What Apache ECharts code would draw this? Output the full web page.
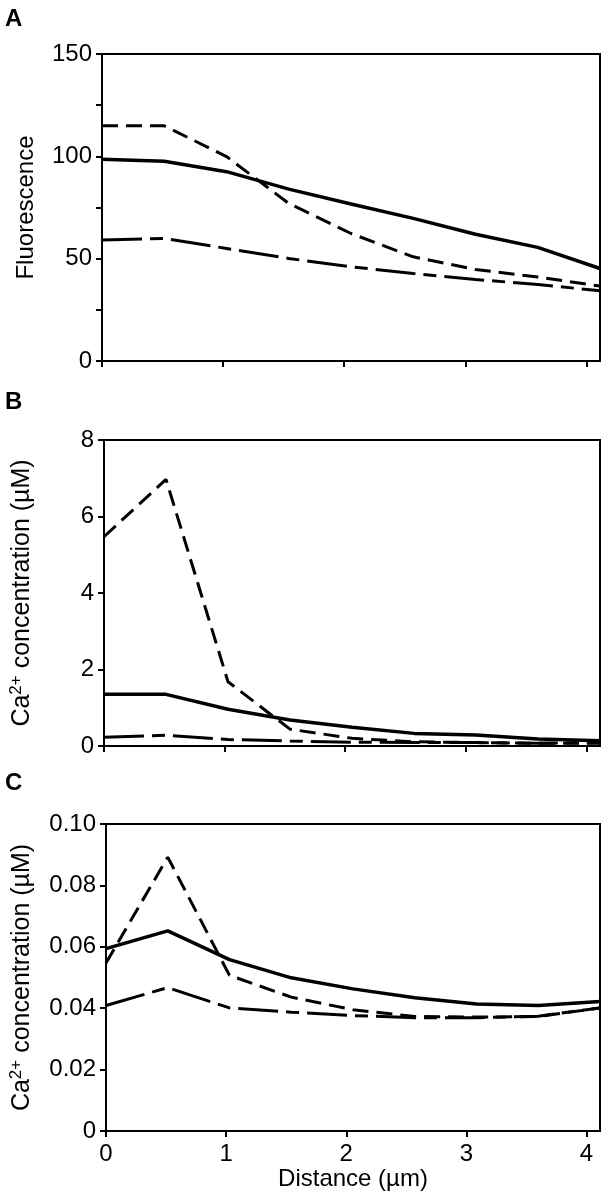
<!DOCTYPE html>
<html>
<head>
<meta charset="utf-8">
<script src="https://cdn.jsdelivr.net/npm/echarts@6/dist/echarts.min.js"></script>
<style>html,body{margin:0;padding:0;background:#fff}#c{width:608px;height:1200px}</style>
</head>
<body>
<div id="c"></div>
<script>
// Distance (µm) sample positions
const distance = [0, 0.514, 1.028, 1.542, 2.056, 2.57, 3.084, 3.598, 4.112];
const xTickLabels = [0, 1, 2, 3, 4];

// Panel A: Fluorescence
const aSolid   = [98.6, 97.6, 92.5, 84.0, 76.7, 69.7, 61.9, 55.5, 45.2];
const aDashed  = [114.9, 114.9, 99.9, 77.0, 62.3, 50.9, 44.7, 41.0, 36.6];
const aDashDot = [59.1, 59.9, 55.0, 50.1, 46.0, 42.8, 39.8, 37.4, 34.3];

// Panel B: Ca2+ concentration (µM)
const bSolid   = [1.35, 1.35, 0.96, 0.68, 0.49, 0.33, 0.29, 0.18, 0.14];
const bDashed  = [5.47, 6.97, 1.68, 0.44, 0.20, 0.11, 0.09, 0.07, 0.07];
const bDashDot = [0.23, 0.28, 0.17, 0.13, 0.10, 0.09, 0.09, 0.07, 0.09];

// Panel C: Ca2+ concentration (µM)
const cSolid   = [0.0594, 0.0652, 0.0558, 0.0499, 0.0463, 0.0434, 0.0414, 0.0409, 0.0422];
const cDashed  = [0.0547, 0.0892, 0.0507, 0.0436, 0.0395, 0.0373, 0.0371, 0.0373, 0.0401];
const cDashDot = [0.0409, 0.0467, 0.0401, 0.0387, 0.0376, 0.0369, 0.0369, 0.0374, 0.0401];

const aYLabels = [0, 50, 100, 150];
const bYLabels = [0, 2, 4, 6, 8];
const cYLabels = [0, 0.02, 0.04, 0.06, 0.08, 0.10];

const FONT = 'Liberation Sans, Arial, Helvetica, sans-serif';
const pairs = ys => distance.map((x, i) => [x, ys[i]]);

function xAxis(idx, showLabels) {
  return {
    type: 'value', gridIndex: idx, min: 0, max: 4.112, interval: 1,
    axisLine: { show: true, lineStyle: { color: '#000', width: 2 } },
    axisTick: { show: true, inside: false, length: 6, lineStyle: { color: '#000', width: 2 }, customValues: xTickLabels },
    axisLabel: showLabels ? { show: true, customValues: xTickLabels, fontSize: 24, color: '#000', fontFamily: FONT, margin: 11 } : { show: false },
    splitLine: { show: false },
    name: showLabels ? 'Distance (µm)' : '',
    nameLocation: 'middle', nameGap: 36,
    nameTextStyle: { fontSize: 24, color: '#000', fontFamily: FONT }
  };
}
function yAxis(idx, max, interval, labels, name, gap, fmt, nameSize) {
  return {
    type: 'value', gridIndex: idx, min: 0, max: max, interval: interval,
    axisLine: { show: true, lineStyle: { color: '#000', width: 2 } },
    axisTick: { show: true, inside: false, length: 6, lineStyle: { color: '#000', width: 2 } },
    axisLabel: { show: true, customValues: labels, fontSize: 24, color: '#000', fontFamily: FONT, margin: 10, formatter: fmt },
    splitLine: { show: false },
    name: name, nameLocation: 'middle', nameGap: gap, nameRotate: 90,
    nameTextStyle: {
      fontSize: nameSize, color: '#000', fontFamily: FONT,
      rich: { sup: { fontSize: 17, color: '#000', fontFamily: FONT, padding: [0, 0, 12, 0] } }
    }
  };
}
function series(idx, data, kind) {
  const ls = { color: '#000' };
  if (kind === 'solid') { ls.type = 'solid'; ls.width = 3.5; }
  else if (kind === 'dashed') { ls.type = [16, 8]; ls.width = 3; }
  else { ls.type = [40, 8, 13, 8]; ls.width = 3; }
  return { type: 'line', xAxisIndex: idx, yAxisIndex: idx, data: pairs(data), showSymbol: false, symbol: 'none', lineStyle: ls, animation: false, silent: true };
}

const grids = [54, 440, 824].map((t, i) => ({
  left: 102, right: 8, top: t, height: i === 1 ? 306 : 307,
  show: true, borderColor: '#000', borderWidth: 2, backgroundColor: 'transparent'
}));

const chart = echarts.init(document.getElementById('c'), null, { renderer: 'canvas' });
chart.setOption({
  animation: false,
  backgroundColor: '#fff',
  grid: grids,
  xAxis: [xAxis(0, false), xAxis(1, false), xAxis(2, true)],
  yAxis: [
    yAxis(0, 150, 25, aYLabels, 'Fluorescence', 64, v => String(v), 24),
    yAxis(1, 8, 2, bYLabels, 'Ca{sup|2+} concentration (µM)', 67, v => String(v), 25),
    yAxis(2, 0.1, 0.02, cYLabels, 'Ca{sup|2+} concentration (µM)', 69, v => v === 0 ? '0' : v.toFixed(2), 25)
  ],
  series: [
    series(0, aSolid, 'solid'), series(0, aDashed, 'dashed'), series(0, aDashDot, 'dashdot'),
    series(1, bSolid, 'solid'), series(1, bDashed, 'dashed'), series(1, bDashDot, 'dashdot'),
    series(2, cSolid, 'solid'), series(2, cDashed, 'dashed'), series(2, cDashDot, 'dashdot')
  ],
  graphic: [
    { type: 'text', left: 5, top: 7, style: { text: 'A', font: 'bold 24px ' + FONT, fill: '#000' } },
    { type: 'text', left: 5, top: 390, style: { text: 'B', font: 'bold 24px ' + FONT, fill: '#000' } },
    { type: 'text', left: 5, top: 771, style: { text: 'C', font: 'bold 24px ' + FONT, fill: '#000' } }
  ]
});
</script>
</body>
</html>
